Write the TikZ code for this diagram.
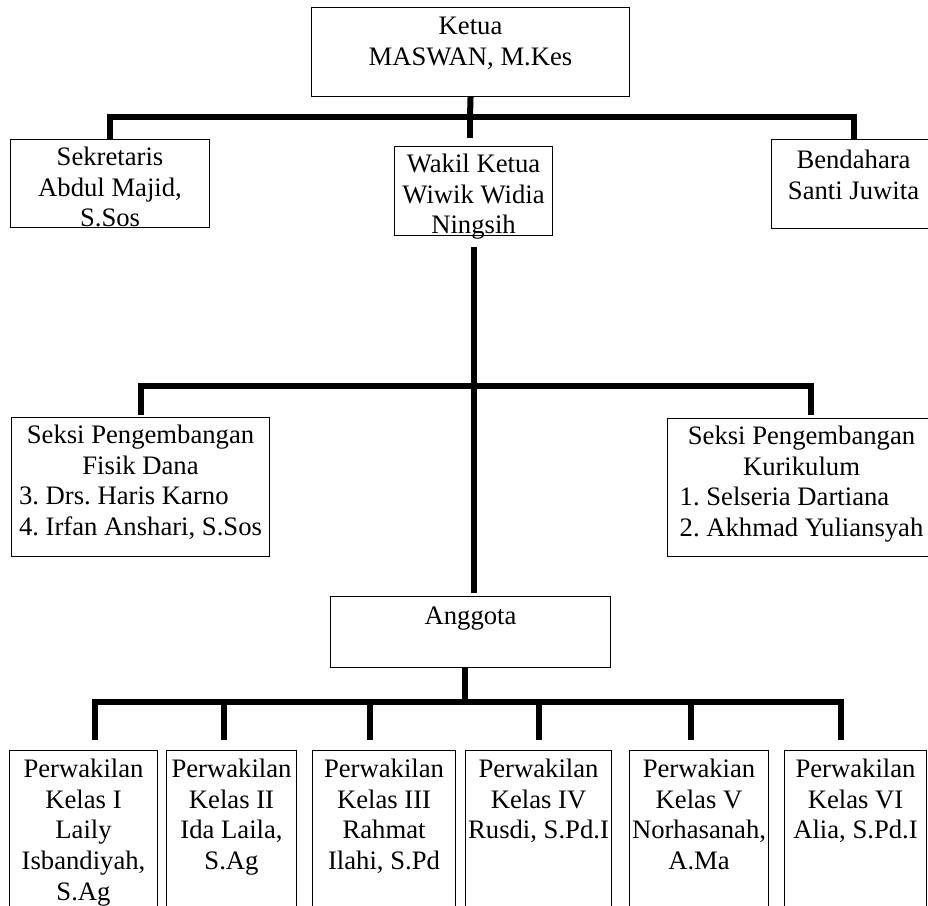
\documentclass[tikz,border=0pt]{standalone}
\usepackage{fontspec}
\setmainfont{Liberation Serif}
\tikzset{
  unit/.style={draw, line width=0.8pt, anchor=north west, inner sep=0pt, align=center, font=\fontsize{20}{23}\selectfont\frenchspacing},
  kelas/.style={unit, minimum width=#1},
  conn/.style={line width=4.5pt}
}
\begin{document}
\begin{tikzpicture}[x=0.75pt, y=-0.75pt]
\useasboundingbox (0,0) rectangle (928,906);
\clip (0,0) rectangle (928,906);

\node[unit, minimum width=238.5pt, text height=43.25pt, text depth=23.5pt] (ketua) at (311,7) {Ketua\\MASWAN, M.Kes};
\node[unit, minimum width=149.25pt, text height=65.5pt, text depth=0.5pt] (sek) at (10,139) {Sekretaris\\Abdul Majid,\\S.Sos};
\node[unit, minimum width=118.5pt, text height=65.5pt, text depth=1.25pt] (wakil) at (394,146) {Wakil Ketua\\Wiwik Widia\\Ningsih};
\node[unit, minimum width=123pt, text height=44.75pt, text depth=22pt] (bend) at (771,139) {Bendahara\\Santi Juwita};

\node[unit, minimum width=193.5pt, text height=65.5pt, text depth=38.75pt] (seksiL) at (11,417) {Seksi Pengembangan\\Fisik Dana\\\begin{tabular}[t]{@{}l@{}}3. Drs. Haris Karno\\4. Irfan Anshari, S.Sos\end{tabular}};
\node[unit, minimum width=201pt, text height=65.5pt, text depth=38pt] (seksiR) at (667,418) {Seksi Pengembangan\\Kurikulum\\\begin{tabular}[t]{@{}l@{}}1. Selseria Dartiana\\2. Akhmad Yuliansyah\end{tabular}};

\node[unit, minimum width=210pt, text height=21pt, text depth=32.25pt] (anggota) at (330,596) {Anggota};

\node[kelas=111pt, text height=112.25pt, text depth=15.25pt] (k1) at (9,750) {Perwakilan\\Kelas I\\Laily\\Isbandiyah,\\S.Ag};
\node[kelas=97.5pt, text height=89.25pt, text depth=38.25pt] (k2) at (166,750) {Perwakilan\\Kelas II\\Ida Laila,\\S.Ag};
\node[kelas=107.25pt, text height=89.25pt, text depth=38.25pt] (k3) at (312,750) {Perwakilan\\Kelas III\\Rahmat\\Ilahi, S.Pd};
\node[kelas=109.5pt, text height=66.25pt, text depth=61.25pt] (k4) at (465,750) {Perwakilan\\Kelas IV\\Rusdi, S.Pd.I};
\node[kelas=104.25pt, text height=89.25pt, text depth=38.25pt] (k5) at (629,750) {Perwakian\\Kelas V\\Norhasanah,\\A.Ma};
\node[kelas=106.5pt, text height=66.25pt, text depth=61.25pt] (k6) at (784,750) {Perwakilan\\Kelas VI\\Alia, S.Pd.I};

\coordinate (bus1) at (470,117);
\coordinate (bus2r) at (811,386);
\coordinate (p0) at (465,702);
\coordinate (p1) at (95,702);
\coordinate (p2) at (224,702);
\coordinate (p3) at (370,702);
\coordinate (p4) at (539,702);
\coordinate (p5) at (691,702);
\coordinate (p6) at (841,702);

\draw[conn] (ketua.south) -- (bus1);
\draw[conn] (sek.north) |- (bus1) -| (bend.north);
\draw[conn, shorten >=6pt] (bus1) -- (bus1 |- wakil.north);
\draw[conn, shorten <=8pt, shorten >=2pt] (wakil.south) -- (wakil.south |- anggota.north);
\draw[conn, shorten <=1.5pt, shorten >=2.25pt] (seksiL.north) |- (bus2r) -- (bus2r |- seksiR.north);
\draw[conn] (anggota.south -| p0) -- (p0);
\draw[conn, shorten <=7.5pt, shorten >=7.5pt] (k1.north -| p1) -- (p1) -- (p6) -- (k6.north -| p6);
\draw[conn, shorten >=7.5pt] (p2) -- (k2.north -| p2);
\draw[conn, shorten >=7.5pt] (p3) -- (k3.north -| p3);
\draw[conn, shorten >=7.5pt] (p4) -- (k4.north -| p4);
\draw[conn, shorten >=7.5pt] (p5) -- (k5.north -| p5);
\end{tikzpicture}
\end{document}
